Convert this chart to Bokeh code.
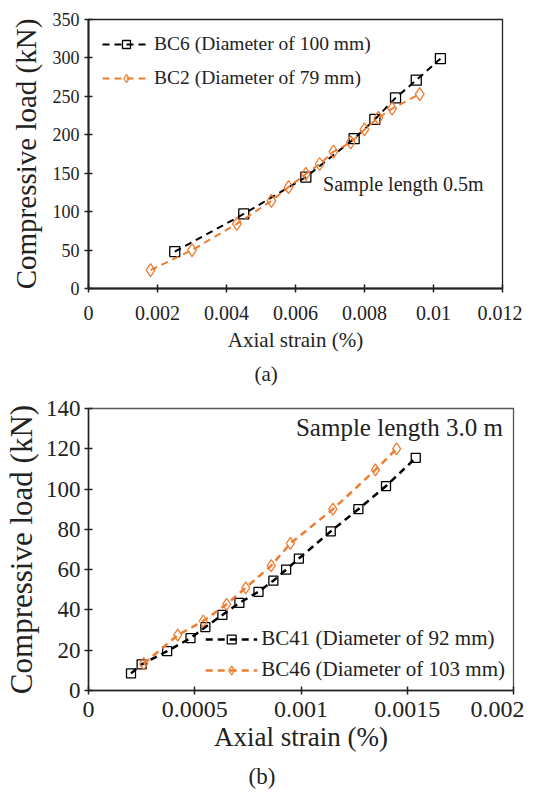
from bokeh.plotting import figure
from bokeh.models import Legend, LegendItem, FixedTicker, Label, Title, Range1d
from bokeh.layouts import column
from bokeh.embed import file_html
from bokeh.resources import INLINE

# ---------- data: panel (a) ----------
a_bc6_x = [0.0025, 0.0045, 0.0063, 0.0077, 0.0083, 0.0089, 0.0095, 0.0102]
a_bc6_y = [48, 97, 145, 195, 220, 248, 271, 299]
a_bc2_x = [0.0018, 0.0030, 0.0043, 0.0053, 0.0058, 0.0063, 0.0067, 0.0071,
           0.0076, 0.0080, 0.0084, 0.0088, 0.0096]
a_bc2_y = [24, 50, 84, 114, 132, 149, 162, 178, 190, 207, 222, 234, 253]
a_xticks = [0, 0.002, 0.004, 0.006, 0.008, 0.01, 0.012]
a_xtick_labels = ["0", "0.002", "0.004", "0.006", "0.008", "0.01", "0.012"]
a_yticks = [0, 50, 100, 150, 200, 250, 300, 350]

# ---------- data: panel (b) ----------
b_bc41_x = [0.0002, 0.00025, 0.00037, 0.00048, 0.00055, 0.00063, 0.00071, 0.00080,
            0.00087, 0.00093, 0.00099, 0.00114, 0.00127, 0.00140, 0.00154]
b_bc41_y = [8.5, 13, 19.5, 26, 31.5, 37.5, 43.5, 49, 54.5, 60, 65.5, 79, 90, 101.5, 115.5]
b_bc46_x = [0.00026, 0.00042, 0.00054, 0.00065, 0.00074, 0.00086, 0.00095,
            0.00115, 0.00135, 0.00145]
b_bc46_y = [13.3, 27.5, 34.5, 42.8, 51, 62, 73, 90, 109.5, 120]
b_xticks = [0, 0.0005, 0.001, 0.0015, 0.002]
b_xtick_labels = ["0", "0.0005", "0.001", "0.0015", "0.002"]
b_yticks = [0, 20, 40, 60, 80, 100, 120, 140]

FONT = "Liberation Serif"
ORANGE = "#ED7D31"


def style(p, tick_x_size, tick_y_size, label_size_x, label_size_y, axis_w):
    p.xgrid.visible = False
    p.ygrid.visible = False
    p.outline_line_color = "#222222"
    p.outline_line_width = 1.3
    for ax in (p.xaxis[0], p.yaxis[0]):
        ax.axis_line_color = "#222222"
        ax.axis_line_width = axis_w
        ax.major_tick_line_color = "#222222"
        ax.major_tick_line_width = 1.5
        ax.major_tick_in = 4
        ax.major_tick_out = 4
        ax.minor_tick_line_color = None
        ax.major_label_text_font = FONT
        ax.axis_label_text_font = FONT
        ax.axis_label_text_font_style = "normal"
        ax.major_label_text_color = "#222222"
        ax.axis_label_text_color = "#222222"
    p.xaxis.major_label_text_font_size = tick_x_size
    p.yaxis.major_label_text_font_size = tick_y_size
    p.xaxis.axis_label_text_font_size = label_size_x
    p.yaxis.axis_label_text_font_size = label_size_y


# ---------------- panel (a) ----------------
pa = figure(frame_width=414, frame_height=269, output_backend="svg",
            toolbar_location=None, x_range=Range1d(0, 0.012), y_range=Range1d(0, 350),
            min_border_left=81, min_border_right=26, min_border_top=19,
            min_border_bottom=0, background_fill_color="white",
            border_fill_color="white")
style(pa, "20px", "18px", "21px", "29px", 2)
pa.xaxis.ticker = FixedTicker(ticks=a_xticks)
pa.xaxis.major_label_overrides = {t: l for t, l in zip(a_xticks, a_xtick_labels)}
pa.yaxis.ticker = FixedTicker(ticks=a_yticks)
pa.xaxis.axis_label = "Axial strain (%)"
pa.yaxis.axis_label = "Compressive load (kN)"
pa.xaxis.major_label_standoff = 13
pa.yaxis.major_label_standoff = 5
pa.xaxis.axis_label_standoff = 5
pa.yaxis.axis_label_standoff = 8

l6 = pa.line(a_bc6_x, a_bc6_y, line_color="black", line_width=2, line_dash="7 5")
m6 = pa.scatter(a_bc6_x, a_bc6_y, marker="square", size=10, line_color="black",
                fill_color=None, line_width=1.3)
l2 = pa.line(a_bc2_x, a_bc2_y, line_color=ORANGE, line_width=2, line_dash="7 5")
m2 = pa.scatter(a_bc2_x, a_bc2_y, marker="diamond", size=13, line_color=ORANGE,
                fill_color=None, line_width=1.3)

leg_a = Legend(items=[LegendItem(label="BC6 (Diameter of 100 mm)", renderers=[l6, m6]),
                      LegendItem(label="BC2 (Diameter of 79 mm)", renderers=[l2, m2])],
               location="top_left", margin=14, padding=2, spacing=12,
               glyph_width=48, glyph_height=20, label_standoff=4,
               label_text_font=FONT, label_text_font_size="19.5px",
               label_text_color="#222222",
               border_line_color=None, background_fill_alpha=0)
pa.add_layout(leg_a)
pa.add_layout(Label(x=0.0068, y=136, text="Sample length 0.5m", text_font=FONT,
                    text_font_size="20px", text_baseline="middle",
                    text_color="#222222"))
pa.add_layout(Title(text="(a)", align="left", offset=166, text_font=FONT,
                    text_font_size="21px", text_font_style="normal",
                    text_color="#222222"), "below")

# ---------------- panel (b) ----------------
pb = figure(frame_width=425, frame_height=282, output_backend="svg",
            toolbar_location=None, x_range=Range1d(0, 0.002), y_range=Range1d(0, 140),
            min_border_left=85, min_border_right=11, min_border_top=18,
            min_border_bottom=0, background_fill_color="white",
            border_fill_color="white")
style(pb, "24px", "23px", "27px", "31px", 1.5)
pb.xaxis.ticker = FixedTicker(ticks=b_xticks)
pb.xaxis.major_label_overrides = {t: l for t, l in zip(b_xticks, b_xtick_labels)}
pb.yaxis.ticker = FixedTicker(ticks=b_yticks)
pb.xaxis.axis_label = "Axial strain (%)"
pb.yaxis.axis_label = "Compressive load (kN)"
pb.xaxis.major_label_standoff = 7
pb.yaxis.major_label_standoff = 4
pb.xaxis.axis_label_standoff = 2
pb.yaxis.axis_label_standoff = 4
pb.outline_line_color = "#555555"

l41 = pb.line(b_bc41_x, b_bc41_y, line_color="black", line_width=2.5, line_dash="7 5")
m41 = pb.scatter(b_bc41_x, b_bc41_y, marker="square", size=9, line_color="black",
                 fill_color=None, line_width=1.3)
l46 = pb.line(b_bc46_x, b_bc46_y, line_color=ORANGE, line_width=2.5, line_dash="7 5")
m46 = pb.scatter(b_bc46_x, b_bc46_y, marker="diamond", size=12, line_color=ORANGE,
                 fill_color=None, line_width=1.3)

leg_b = Legend(items=[LegendItem(label="BC41 (Diameter of 92 mm)", renderers=[l41, m41]),
                      LegendItem(label="BC46 (Diameter of 103 mm)", renderers=[l46, m46])],
               location="bottom_right", margin=8, padding=2, spacing=6,
               glyph_width=52, glyph_height=22, label_standoff=4,
               label_text_font=FONT, label_text_font_size="21px",
               label_text_color="#222222",
               border_line_color=None, background_fill_alpha=0)
pb.add_layout(leg_b)
pb.add_layout(Label(x=0.00195, y=130.5, text="Sample length 3.0 m", text_font=FONT,
                    text_font_size="25px", text_baseline="middle", text_align="right",
                    text_color="#222222"))
pb.add_layout(Title(text="(b)", align="left", offset=160, standoff=14, text_font=FONT,
                    text_font_size="23px", text_font_style="normal",
                    text_color="#222222"), "below")

layout = column(pa, pb, spacing=0)
open("out.html", "w").write(file_html(layout, INLINE))
